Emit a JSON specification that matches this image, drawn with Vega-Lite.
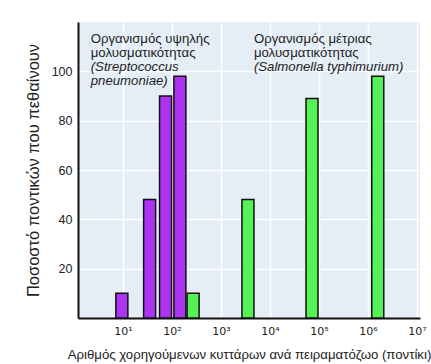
{
  "$schema": "https://vega.github.io/schema/vega-lite/v6.json",
  "autosize": "none",
  "width": 342,
  "height": 296,
  "padding": {"left": 78, "top": 22, "right": 11, "bottom": 46},
  "background": "#ffffff",
  "config": {
    "font": "Liberation Sans",
    "view": {"fill": "#e5eef7", "stroke": null},
    "axis": {"labelColor": "#222222", "titleColor": "#222222", "titleFontWeight": "normal", "gridColor": "#ffffff", "gridWidth": 1.5, "gridOpacity": 0.9}
  },
  "datasets": {
    "bars": [
      {"dose": 9.5, "pct": 10, "organism": "Streptococcus pneumoniae"},
      {"dose": 35, "pct": 48, "organism": "Streptococcus pneumoniae"},
      {"dose": 74, "pct": 90, "organism": "Streptococcus pneumoniae"},
      {"dose": 145, "pct": 98, "organism": "Streptococcus pneumoniae"},
      {"dose": 270, "pct": 10, "organism": "Salmonella typhimurium"},
      {"dose": 3550, "pct": 48, "organism": "Salmonella typhimurium"},
      {"dose": 72000, "pct": 89, "organism": "Salmonella typhimurium"},
      {"dose": 1580000, "pct": 98, "organism": "Salmonella typhimurium"}
    ],
    "notes": [
      {"dose": 2.2, "pct": 111.3, "line": "Οργανισμός υψηλής", "kind": "description"},
      {"dose": 2.2, "pct": 105.7, "line": "μολυσματικότητας", "kind": "description"},
      {"dose": 2.2, "pct": 100.2, "line": "(Streptococcus", "kind": "species"},
      {"dose": 2.2, "pct": 94.6, "line": "pneumoniae)", "kind": "species"},
      {"dose": 4700, "pct": 111.3, "line": "Οργανισμός μέτριας", "kind": "description"},
      {"dose": 4700, "pct": 105.7, "line": "μολυσματικότητας", "kind": "description"},
      {"dose": 4700, "pct": 100.2, "line": "(Salmonella typhimurium)", "kind": "species"}
    ]
  },
  "layer": [
    {
      "data": {"name": "bars"},
      "mark": {"type": "bar", "orient": "vertical", "width": 12, "stroke": "#111111", "strokeWidth": 1.5},
      "encoding": {
        "x": {
          "field": "dose", "type": "quantitative",
          "scale": {"type": "log", "domain": [1.21, 11500000], "nice": false, "padding": 0},
          "axis": {
            "values": [10, 100, 1000, 10000, 100000, 1000000, 10000000],
            "labelExpr": "'10' + ['⁰','¹','²','³','⁴','⁵','⁶','⁷'][round(log(datum.value)/LN10)]",
            "labelFont": "DejaVu Sans",
            "labelFontSize": 11,
            "labelPadding": 7,
            "ticks": false,
            "domainColor": "#111111",
            "domainWidth": 2,
            "grid": true,
            "title": "Αριθμός χορηγούμενων κυττάρων ανά πειραματόζωο (ποντίκι)",
            "titleFontSize": 13.2,
            "titlePadding": 12
          }
        },
        "y": {
          "field": "pct", "type": "quantitative",
          "scale": {"domain": [0, 120], "nice": false, "padding": 0},
          "axis": {
            "values": [20, 40, 60, 80, 100],
            "labelFontSize": 12.5,
            "labelPadding": 6,
            "ticks": false,
            "domainColor": "#111111",
            "domainWidth": 2,
            "grid": true,
            "title": "Ποσοστό ποντικών που πεθαίνουν",
            "titleFontSize": 16.5,
            "titlePadding": 10
          }
        },
        "color": {
          "field": "organism", "type": "nominal",
          "scale": {"domain": ["Streptococcus pneumoniae", "Salmonella typhimurium"], "range": ["#ad33f2", "#55f257"]},
          "legend": null
        }
      }
    },
    {
      "data": {"name": "notes"},
      "transform": [{"filter": "datum.kind === 'description'"}],
      "mark": {"type": "text", "align": "left", "baseline": "alphabetic", "fontSize": 13.2, "color": "#222222"},
      "encoding": {
        "x": {"field": "dose", "type": "quantitative"},
        "y": {"field": "pct", "type": "quantitative"},
        "text": {"field": "line", "type": "nominal"}
      }
    },
    {
      "data": {"name": "notes"},
      "transform": [{"filter": "datum.kind === 'species'"}],
      "mark": {"type": "text", "align": "left", "baseline": "alphabetic", "fontSize": 13.2, "fontStyle": "italic", "color": "#222222"},
      "encoding": {
        "x": {"field": "dose", "type": "quantitative"},
        "y": {"field": "pct", "type": "quantitative"},
        "text": {"field": "line", "type": "nominal"}
      }
    }
  ]
}
